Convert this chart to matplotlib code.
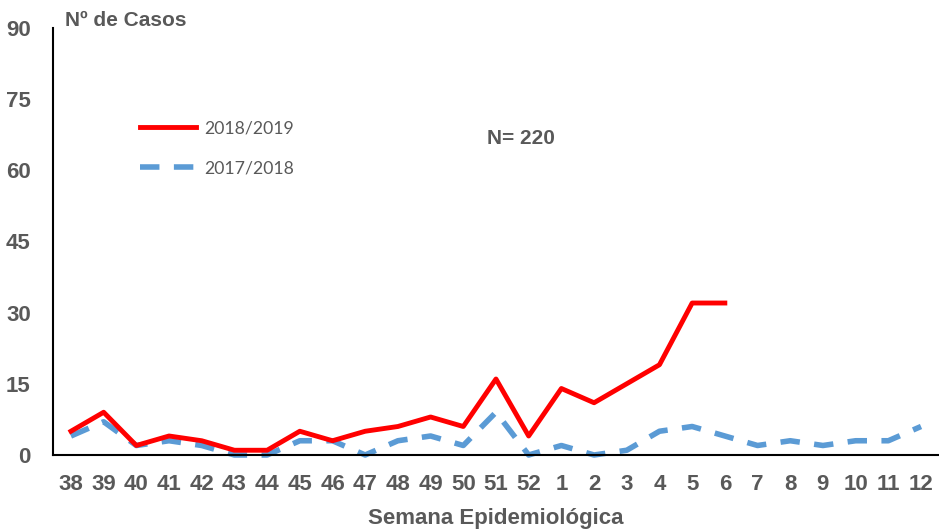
import matplotlib
matplotlib.use("Agg")
import matplotlib.pyplot as plt
import numpy as np

# epidemiological weeks (38..52, then 1..12)
weeks = ["38", "39", "40", "41", "42", "43", "44", "45", "46", "47", "48", "49",
         "50", "51", "52", "1", "2", "3", "4", "5", "6", "7", "8", "9", "10", "11", "12"]
cases_2018_2019 = [5, 9, 2, 4, 3, 1, 1, 5, 3, 5, 6, 8, 6, 16, 4, 14, 11, 15, 19, 32, 32]
cases_2017_2018 = [4, 7, 2, 3, 2, 0, 0, 3, 3, 0, 3, 4, 2, 9, 0, 2, 0, 1, 5, 6, 4,
                   2, 3, 2, 3, 3, 6]
yticks = [0, 15, 30, 45, 60, 75, 90]

gray = "#595959"
fig = plt.figure(figsize=(9.39, 5.29), dpi=100)
ax = fig.add_axes([0.0564, 0.1399, 0.9436, 0.808])

x_all = np.arange(len(weeks))
ax.plot(x_all[:len(cases_2017_2018)], cases_2017_2018, color="#5b9bd5", lw=4,
        linestyle=(0, (3.5, 2.6)), label="2017/2018", zorder=2, clip_on=False)
ax.plot(x_all[:len(cases_2018_2019)], cases_2018_2019, color="#ff0000", lw=3.5,
        label="2018/2019", zorder=3, clip_on=False)

ax.set_xlim(-0.55, len(weeks) - 0.45)
ax.set_ylim(0, 90)
ax.set_xticks(x_all)
ax.set_xticklabels(weeks)
ax.set_yticks(yticks)
ax.tick_params(axis="both", length=0, labelsize=16, labelcolor=gray)
ax.tick_params(axis="x", pad=14)
ax.tick_params(axis="y", pad=16)
for lbl in ax.get_xticklabels() + ax.get_yticklabels():
    lbl.set_fontweight("bold")
    lbl.set_fontfamily("Liberation Sans")

for s in ["top", "right"]:
    ax.spines[s].set_visible(False)
ax.spines["left"].set_linewidth(1.5)
ax.spines["bottom"].set_linewidth(1.5)

ax.set_xlabel("Semana Epidemiológica", fontsize=16, fontweight="bold", color=gray,
              family="Liberation Sans", labelpad=9)
fig.text(0.069, 0.962, "Nº de Casos", fontsize=15, fontweight="bold", color=gray,
         family="Liberation Sans", va="center", ha="left")
fig.text(0.555, 0.739, "N= 220", fontsize=15, fontweight="bold", color=gray,
         family="Liberation Sans", va="center", ha="center")

handles, labels = ax.get_legend_handles_labels()
leg = ax.legend(handles[::-1], labels[::-1], loc="upper left",
                bbox_to_anchor=(0.08, 0.82), frameon=False, handlelength=3.2,
                handletextpad=0.45, labelspacing=1.35,
                prop={"family": "Lato", "size": 12.7})
for t in leg.get_texts():
    t.set_color(gray)

fig.savefig("out.png", dpi=100)
